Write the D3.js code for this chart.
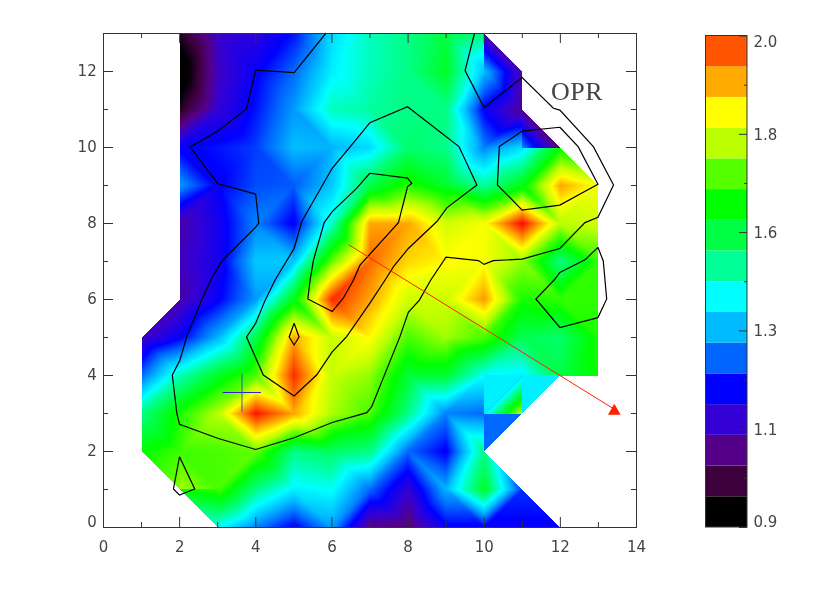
<!DOCTYPE html>
<html>
<head>
<meta charset="utf-8">
<script src="https://cdn.jsdelivr.net/npm/d3@7"></script>
<style>
  body { margin: 0; background: #fff; }
  #chart { position: relative; width: 830px; height: 593px; }
  #chart canvas, #chart svg { position: absolute; left: 0; top: 0; }
  text { font-family: "DejaVu Sans", sans-serif; fill: #444; }
</style>
</head>
<body>
<div id="chart"></div>
<script>
// grid columns and rows of the map
const gridX = [1, 2, 3, 4, 5, 6, 7, 8, 9, 10, 11, 12, 13];
const gridY = [13, 12, 11, 10, 9, 8, 7, 6, 5, 4, 3, 2, 1, 0];

// values, one row per gridY entry
const gridValues = [
  [null, 0.97, 1.13, 1.15, 1.22, 1.38, 1.46, 1.5, 1.56, 1.5, null, null, null],
  [null, 0.88, 1.12, 1.2, 1.28, 1.4, 1.46, 1.5, 1.58, 1.35, 1.1, null, null],
  [null, 0.97, 1.14, 1.22, 1.32, 1.46, 1.48, 1.5, 1.5, 1.2, 1.08, null, null],
  [null, 1.2, 1.22, 1.25, 1.35, 1.34, 1.38, 1.52, 1.5, 1.3, 1.38, 1.62, null],
  [null, 1.32, 1.2, 1.26, 1.27, 1.36, 1.55, 1.65, 1.58, 1.48, 1.6, 1.9, 1.82],
  [null, 1.1, 1.18, 1.3, 1.2, 1.45, 1.9, 1.9, 1.78, 1.82, 2.03, 1.76, 1.78],
  [null, 1.12, 1.18, 1.36, 1.36, 1.7, 1.95, 1.86, 1.83, 1.82, 1.73, 1.5, 1.66],
  [null, 1.1, 1.2, 1.32, 1.6, 2.0, 1.9, 1.78, 1.78, 1.91, 1.64, 1.66, 1.66],
  [1.12, 1.2, 1.34, 1.55, 1.9, 1.77, 1.83, 1.68, 1.74, 1.68, 1.54, 1.52, 1.64],
  [1.28, 1.46, 1.58, 1.68, 2.0, 1.77, 1.73, 1.57, 1.57, 1.42, 1.4, 1.55, 1.63],
  [1.5, 1.64, 1.76, 2.02, 1.9, 1.75, 1.68, 1.5, 1.3, 1.28, null, null, null],
  [1.62, 1.67, 1.68, 1.7, 1.5, 1.53, 1.5, 1.28, 1.2, 1.5, null, null, null],
  [null, 1.75, 1.68, 1.5, 1.4, 1.42, 1.28, 1.14, 1.34, 1.58, 1.24, null, null],
  [null, null, 1.42, 1.3, 1.2, 1.32, 1.07, 1.05, 1.2, 1.2, 1.2, 1.2, null]
];

// cells whose diagonal runs the other way from the alternating pattern
const flippedCells = [[5, 5], [9, 5], [10, 5], [9, 6], [10, 6]];

// triangles along the map edge that do not follow the grid values: [x, y, value] x 3
const edgeTriangles = [
  [[1, 2, 1.62], [2, 1, 1.72], [2, 2, 1.67]],
  [[2, 1, 1.62], [3, 0, 1.42], [3, 1, 1.66]],
  [[10, 12, 1.35], [11, 12, 1.1], [10, 13, 1.1]],
  [[11, 10, 1.3], [12, 10, 1.05], [11, 11, 1.08]],
  [[10, 2, 1.28], [11, 3, 1.28], [10, 3, 1.28]],
  [[10, 3, 1.38], [11, 3, 1.78], [11, 4, 1.38]],
  [[10, 3, 1.4], [11, 4, 1.4], [10, 4, 1.4]],
  [[11, 3, 1.4], [12, 4, 1.4], [11, 4, 1.4]]
];

// colour bar
const barColors = ["#000000", "#3d003d", "#550088", "#3300d5", "#0000ff", "#0066ff", "#00bbff", "#00ffff",
  "#00ff99", "#00ff44", "#00ff00", "#55ff00", "#bbff00", "#ffff00", "#ffaa00", "#ff5500"];
const barTickValues = [0.9, 1.12, 1.34, 1.56, 1.78, 2.0];
const barTickLabels = ["0.9", "1.1", "1.3", "1.6", "1.8", "2.0"];
const barMinorTicks = [1.01, 1.23, 1.45, 1.67, 1.89];

// contour lines in map units
const contourOuter = [[5.86,13],[5.02,11.96],[4.01,12.02],[3.77,11],[2.99,10.4],[2.29,10],[3.01,9.04],[4.01,8.76],[4.09,8],[4.01,7.89],[3.12,7],[2.83,6.5],[2.59,5.97],[2.2,5.01],[2.02,4.39],[1.82,4],[1.94,2.99],[2.01,2.7],[3.03,2.33],[4.01,2.04],[5.02,2.35],[6.02,2.75],[6.93,3.01],[7.06,3.17],[7.8,5.01],[8.02,5.65],[8.31,5.97],[8.61,6.5],[9.01,7.1],[9.86,7.01],[10.01,6.91],[10.25,7.01],[11.01,7.05],[12,7.33],[12.66,8.01],[13,8.15],[13.41,9],[12.88,10.01],[12,10.97],[11.83,11.02],[11.01,11.83],[10.01,11.04],[9.51,12.01],[9.76,13]];
const contourMiddle = [[6.75,10.32],[7.01,10.64],[8,11.06],[9.35,10.01],[9.82,9],[9.03,8.4],[8.77,8.04],[8.02,7.33],[7.63,6.85],[7.41,6.5],[7.01,5.89],[6.4,5.01],[6.02,4.61],[5.61,4],[5.02,3.45],[4.21,4],[3.77,5],[4.01,5.36],[4.26,5.97],[4.52,6.5],[5.02,7.33],[5.22,8.04],[6.02,9.44],[6.75,10.32]];
const contourInner = [[7.01,9.31],[8,9.18],[8.11,9.04],[8,8.96],[7.76,8.01],[6.75,6.89],[6.58,6.5],[6.31,6.02],[6.02,5.67],[5.38,6],[5.44,6.5],[5.53,7.03],[5.81,8.01],[6.02,8.3],[6.66,8.91],[7.01,9.31]];
const contourPeak = [[5.02,5.36],[5.15,5],[5.02,4.79],[4.89,5],[5.02,5.36]];
const contourCorner = [[2.01,1.85],[2.41,1],[2.01,0.84],[1.85,1],[2.01,1.85]];
const contourRing = [[12,10.52],[12.48,10.01],[13,9.02],[12,8.47],[11.01,8.34],[10.36,9],[10.41,10.01],[11.01,10.42],[12,10.52]];
const contourRight = [[13,7.36],[13.14,7],[13.23,6],[13,5.51],[12,5.25],[11.37,6],[11.85,6.5],[12,6.7],[12.66,7.03],[13,7.36]];
const contours = [contourOuter, contourMiddle, contourInner, contourPeak, contourCorner, contourRing, contourRight];

// annotations
const arrowLine = [[6.45, 7.43], [13.43, 3.1]];
const arrowHead = [13.43, 3.05];
const crossH = [[3.14, 3.54], [4.15, 3.54]];
const crossV = [[3.65, 4.04], [3.65, 3.03]];

const width = 830, height = 593;
const x = d3.scaleLinear().domain([0, 14]).range([103, 636]);
const y = d3.scaleLinear().domain([0, 13]).range([527, 33]);
const barY = d3.scaleLinear().domain([0.9, 2.0]).range([527, 35.5]);

// continuous colour table: each bar colour sits at the middle of its band, red just past the end
const step = 1.1 / barColors.length;
const color = d3.scaleLinear()
  .domain(barColors.map((c, i) => 0.9 + (i + 0.5) * step).concat([0.9 + 16.5 * step]))
  .range(barColors.concat(["#ff0000"]))
  .clamp(true);

// ---- triangles: the shared corner alternates between grid cells
function valueAt(px, py) {
  const j = gridY.indexOf(py), i = gridX.indexOf(px);
  if (i < 0 || j < 0) return null;
  return gridValues[j][i];
}
function vertex(px, py) {
  const v = valueAt(px, py);
  return v === null ? null : [px, py, v];
}
let triangles = [];
for (let cx = 0; cx < 14; cx++) {
  for (let cy = 0; cy < 13; cy++) {
    const a = vertex(cx, cy), b = vertex(cx + 1, cy), c = vertex(cx + 1, cy + 1), e = vertex(cx, cy + 1);
    const flipped = flippedCells.some(d => d[0] === cx && d[1] === cy);
    const rising = ((cx + cy) % 2 === 0) !== flipped;
    const pair = rising ? [[a, b, c], [a, c, e]] : [[a, b, e], [b, c, e]];
    pair.forEach(t => { if (t.every(p => p)) triangles.push(t); });
  }
}
triangles = triangles.concat(edgeTriangles);

// ---- shaded map, painted pixel by pixel
const canvas = d3.select("#chart").append("canvas").attr("width", width).attr("height", height);
const ctx = canvas.node().getContext("2d");
const img = ctx.createImageData(width, height);
triangles.forEach(t => {
  const p = t.map(d => [x(d[0]), y(d[1]), d[2]]);
  const den = (p[1][1] - p[2][1]) * (p[0][0] - p[2][0]) + (p[2][0] - p[1][0]) * (p[0][1] - p[2][1]);
  const x0 = Math.floor(d3.min(p, d => d[0])), x1 = Math.ceil(d3.max(p, d => d[0]));
  const y0 = Math.floor(d3.min(p, d => d[1])), y1 = Math.ceil(d3.max(p, d => d[1]));
  for (let py = y0; py <= y1; py++) {
    for (let px = x0; px <= x1; px++) {
      const l0 = ((p[1][1] - p[2][1]) * (px - p[2][0]) + (p[2][0] - p[1][0]) * (py - p[2][1])) / den;
      const l1 = ((p[2][1] - p[0][1]) * (px - p[2][0]) + (p[0][0] - p[2][0]) * (py - p[2][1])) / den;
      const l2 = 1 - l0 - l1;
      if (l0 < -0.001 || l1 < -0.001 || l2 < -0.001) continue;
      const rgb = d3.rgb(color(l0 * p[0][2] + l1 * p[1][2] + l2 * p[2][2]));
      const k = (py * width + px) * 4;
      img.data[k] = rgb.r; img.data[k + 1] = rgb.g; img.data[k + 2] = rgb.b; img.data[k + 3] = 255;
    }
  }
});
ctx.putImageData(img, 0, 0);

// ---- everything else is svg on top
const svg = d3.select("#chart").append("svg").attr("width", width).attr("height", height);
const line = d3.line().x(d => x(d[0])).y(d => y(d[1]));

svg.append("g").selectAll("path").data(contours).join("path")
  .attr("d", line).attr("fill", "none").attr("stroke", "#000").attr("stroke-width", 1.2);

svg.append("path").attr("d", line(arrowLine)).attr("stroke", "#ff2000").attr("fill", "none");
svg.append("path").attr("d", d3.symbol(d3.symbolTriangle, 70)())
  .attr("transform", `translate(${x(arrowHead[0])},${y(arrowHead[1])})`).attr("fill", "#ff2000");

svg.append("path").attr("d", line(crossH)).attr("stroke", "#2a20d8").attr("fill", "none");
svg.append("path").attr("d", line(crossV)).attr("stroke", "#4a48b8").attr("fill", "none");

svg.append("text").attr("x", 551).attr("y", 100)
  .style("font-family", '"Liberation Serif", serif').style("font-size", "26px")
  .style("letter-spacing", "0.5px").text("OPR");

// ---- map axes, all four sides
const xMajor = d3.range(0, 15, 2), xMinor = d3.range(1, 14, 2);
const yMajor = d3.range(0, 13, 2), yMinor = d3.range(1, 14, 2);

function drawAxis(axis, tr, labels) {
  const g = svg.append("g").attr("transform", tr).call(axis);
  g.selectAll("line, path").attr("stroke", "#333");
  g.selectAll("text").style("font-size", "15px");
  if (!labels) g.selectAll("text").remove();
  return g;
}
drawAxis(d3.axisBottom(x).tickValues(xMajor).tickSizeInner(-10).tickSizeOuter(0).tickPadding(14), "translate(0,527)", true);
drawAxis(d3.axisBottom(x).tickValues(xMinor).tickSizeInner(-5).tickSizeOuter(0), "translate(0,527)", false);
drawAxis(d3.axisTop(x).tickValues(xMajor).tickSizeInner(-10).tickSizeOuter(0), "translate(0,33)", false);
drawAxis(d3.axisTop(x).tickValues(xMinor).tickSizeInner(-5).tickSizeOuter(0), "translate(0,33)", false);
const yAxisG = drawAxis(d3.axisLeft(y).tickValues(yMajor).tickSizeInner(-10).tickSizeOuter(0).tickPadding(6.3), "translate(103,0)", true);
drawAxis(d3.axisLeft(y).tickValues(yMinor).tickSizeInner(-5).tickSizeOuter(0), "translate(103,0)", false);
drawAxis(d3.axisRight(y).tickValues(yMajor).tickSizeInner(-10).tickSizeOuter(0), "translate(636,0)", false);
drawAxis(d3.axisRight(y).tickValues(yMinor).tickSizeInner(-5).tickSizeOuter(0), "translate(636,0)", false);
yAxisG.selectAll("text").filter(d => d === 0).attr("dy", "-0.03em");

// ---- colour bar
const barLeft = 705.5, barRight = 747;
svg.append("g").selectAll("rect").data(barColors).join("rect")
  .attr("x", barLeft).attr("width", barRight - barLeft)
  .attr("y", (d, i) => barY(0.9 + (i + 1) * step))
  .attr("height", (d, i) => barY(0.9 + i * step) - barY(0.9 + (i + 1) * step))
  .attr("fill", d => d);
svg.append("rect").attr("x", barLeft).attr("y", barY(2.0)).attr("width", barRight - barLeft)
  .attr("height", barY(0.9) - barY(2.0)).attr("fill", "none").attr("stroke", "#333");

const barAxis = d3.axisRight(barY).tickValues(barTickValues).tickSizeInner(-8).tickSizeOuter(0).tickPadding(6.5)
  .tickFormat((d, i) => barTickLabels[i]);
const barG = drawAxis(barAxis, `translate(${barRight},0)`, true);
barG.selectAll("path").remove();
barG.selectAll("text").attr("dy", d => d === 2.0 ? "0.73em" : d === 0.9 ? "-0.03em" : "0.36em");
const barMinor = drawAxis(d3.axisRight(barY).tickValues(barMinorTicks).tickSizeInner(-3).tickSizeOuter(0), `translate(${barRight},0)`, false);
barMinor.selectAll("path").remove();
</script>
</body>
</html>
